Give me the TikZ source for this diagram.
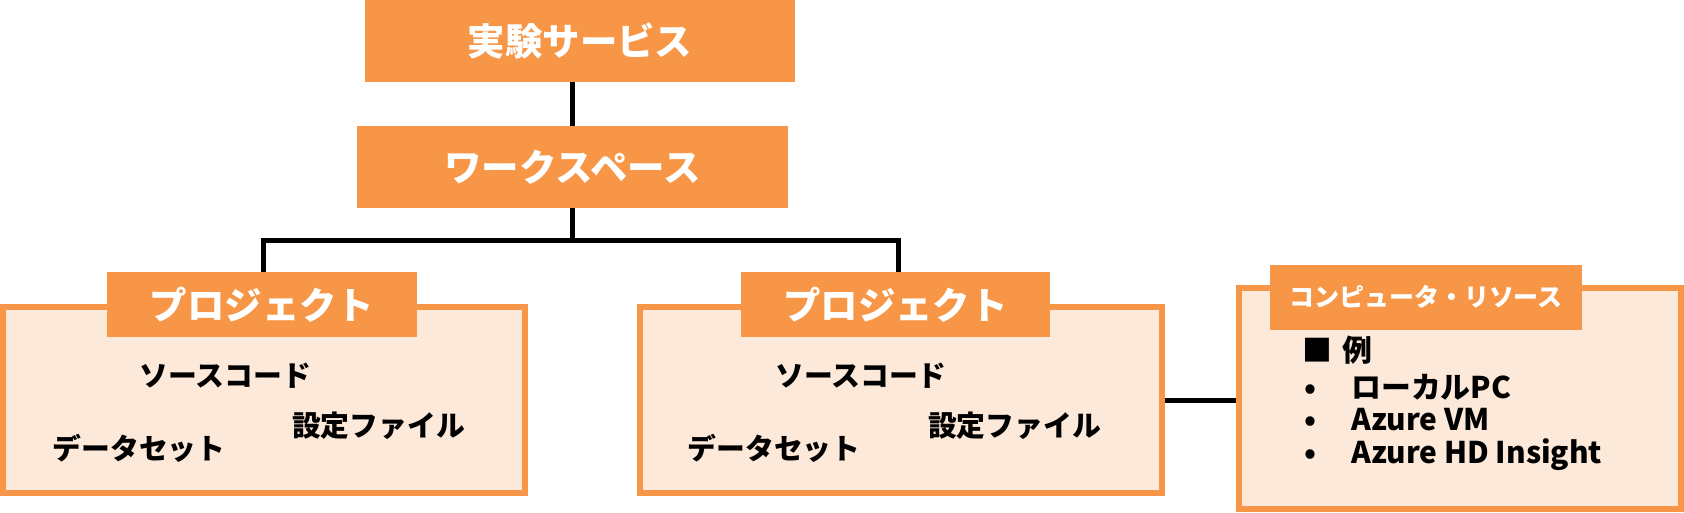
\documentclass[tikz,border=0pt]{standalone}
\usepackage{fontspec}
\setmainfont{Noto Sans CJK JP}
\usepackage{tikz}
\usetikzlibrary{positioning}
\definecolor{accent}{HTML}{F79646}
\definecolor{lightaccent}{HTML}{FDE9D9}
\newcommand{\fs}[1]{\fontsize{#1}{#1}\selectfont}

\begin{document}
\begin{tikzpicture}[
  x=0.02cm, y=-0.02cm,
  head/.style={fill=accent, text=white, font=\bfseries\fs{21.3pt}, inner sep=0pt,
               minimum width=8.62cm, minimum height=1.64cm},
  tab/.style={fill=accent, text=white, font=\bfseries\fs{21.3pt}, inner sep=0pt,
              minimum width=6.2cm, minimum height=1.3cm},
  frame/.style={draw=accent, line width=0.12cm, fill=lightaccent, inner sep=0pt},
  item/.style={font=\bfseries\fs{16.4pt}, inner sep=0pt},
  entry/.style={font=\bfseries\fs{17pt}, inner sep=0pt, anchor=west},
  link/.style={line width=0.1cm, draw=black}
]
  \useasboundingbox (0,0) rectangle (1684,512);

  \node[head] (service) at (580,41) {実験サービス};
  \node[head] (workspace) at (572.5,167) {ワークスペース};

  % projects
  \node[frame, minimum width=10.44cm, minimum height=3.72cm] (leftbox) at (264,400) {};
  \node[tab] (lefttab) at (262,304.5) {プロジェクト};
  \node[item] (leftsrc) at (225.5,376) {ソースコード};
  \node[item] (leftcfg) at (378.5,426) {設定ファイル};
  \node[item] (leftdata) at (139,448) {データセット};

  \node[frame, minimum width=10.44cm, minimum height=3.72cm] (rightbox) at (901,400) {};
  \node[tab] (righttab) at (895.5,304.5) {プロジェクト};
  \node[item] (rightsrc) at (861,376) {ソースコード};
  \node[item] (rightcfg) at (1014.5,426) {設定ファイル};
  \node[item] (rightdata) at (774,448) {データセット};

  % compute resource
  \node[frame, minimum width=8.84cm, minimum height=4.42cm] (computebox) at (1460,398.5) {};
  \node[tab, font=\bfseries\fs{14.2pt}, minimum width=6.24cm] (computetab) at (1426,297)
    {コンピュータ・リソース};
  \node[entry] (example) at (1302,350) {■\hspace{0.2cm}例};
  \node[entry] (local) at (1304,387) {\makebox[0.94cm][l]{•}ローカルPC};
  \node[entry] (vm) at (1304,420) {\makebox[0.94cm][l]{•}Azure VM};
  \node[entry] (hdi) at (1304,455) {\makebox[0.94cm][l]{•}Azure HD Insight};

  \coordinate (leftjoin) at (263.5,240);
  \coordinate (rightjoin) at (898.5,240);

  \draw[link] (workspace.north) -- (workspace.north |- service.south);
  \draw[link] (workspace.south) -- (workspace.south |- leftjoin);
  \draw[link] (leftjoin |- lefttab.north) -- (leftjoin) -- (rightjoin)
    -- (rightjoin |- righttab.north);
  \draw[link] (rightbox.east |- 0,400) -- (computebox.west |- 0,400);
\end{tikzpicture}
\end{document}
